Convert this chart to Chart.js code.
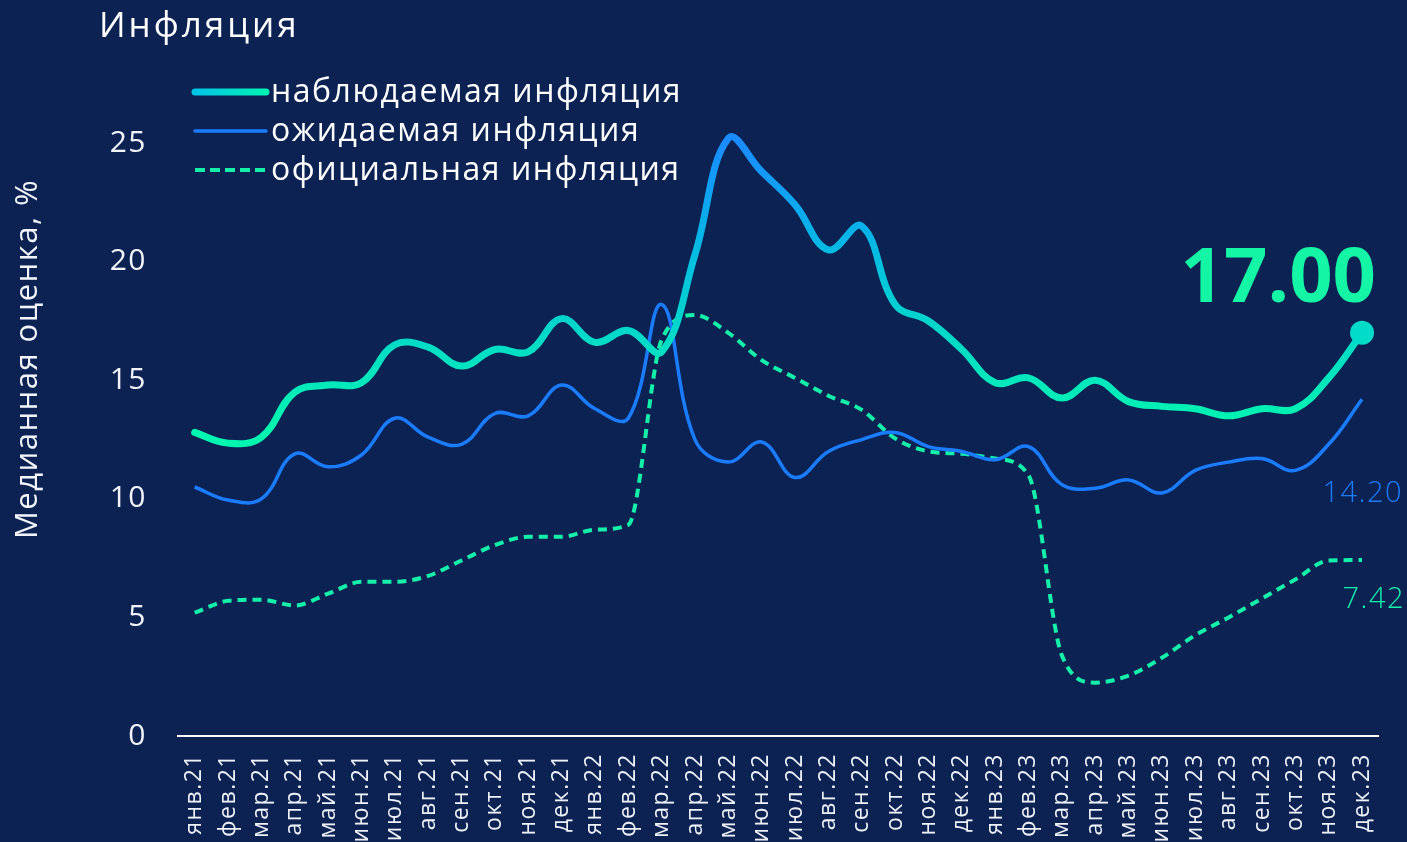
<!DOCTYPE html>
<html lang="ru">
<head>
<meta charset="utf-8">
<title>Инфляция</title>
<script src="https://cdn.jsdelivr.net/npm/chart.js@4.4.1/dist/chart.umd.min.js"></script>
<style>
  html, body { margin: 0; padding: 0; background: #0b2253; overflow: hidden; }
  #wrap { position: relative; width: 1407px; height: 842px; }
  #title { position: absolute; left: 99px; top: 0px; font: 35px 'Open Sans', sans-serif; letter-spacing: 3px; color: #ffffff; }
  canvas { display: block; }
</style>
</head>
<body>
<div id="wrap">
  <div id="title">Инфляция</div>
  <canvas id="chart" width="1407" height="842"></canvas>
</div>
<script>
const months = [
  'янв.21', 'фев.21', 'мар.21', 'апр.21', 'май.21', 'июн.21', 'июл.21', 'авг.21', 'сен.21', 'окт.21', 'ноя.21', 'дек.21',
  'янв.22', 'фев.22', 'мар.22', 'апр.22', 'май.22', 'июн.22', 'июл.22', 'авг.22', 'сен.22', 'окт.22', 'ноя.22', 'дек.22',
  'янв.23', 'фев.23', 'мар.23', 'апр.23', 'май.23', 'июн.23', 'июл.23', 'авг.23', 'сен.23', 'окт.23', 'ноя.23', 'дек.23'
];

// наблюдаемая инфляция
const observed = [
  12.8, 12.35, 12.6, 14.5, 14.8, 14.9, 16.5, 16.4, 15.6, 16.3, 16.2, 17.6,
  16.6, 17.1, 16.2, 20.3, 25.2, 23.8, 22.4, 20.5, 21.5, 18.2, 17.5, 16.3,
  14.9, 15.1, 14.25, 15.0, 14.1, 13.9, 13.8, 13.5, 13.8, 13.8, 15.1, 17.0
];

// ожидаемая инфляция
const expected = [
  10.5, 9.95, 10.0, 11.9, 11.35, 11.85, 13.4, 12.6, 12.3, 13.6, 13.5, 14.8,
  13.8, 13.4, 18.2, 12.5, 11.55, 12.4, 10.9, 12.0, 12.5, 12.8, 12.2, 12.0,
  11.65, 12.2, 10.6, 10.45, 10.8, 10.25, 11.2, 11.55, 11.7, 11.2, 12.3, 14.2
];

// официальная инфляция
const official = [
  5.2, 5.7, 5.75, 5.5, 6.0, 6.5, 6.5, 6.75, 7.4, 8.05, 8.4, 8.4,
  8.7, 8.9, 16.7, 17.75, 17.0, 15.85, 15.1, 14.35, 13.75, 12.55, 12.0, 11.9,
  11.7, 11.0, 3.4, 2.25, 2.55, 3.3, 4.25, 5.0, 5.8, 6.6, 7.4, 7.42
];

const seriesNames = ['наблюдаемая инфляция', 'ожидаемая инфляция', 'официальная инфляция'];
const yTitle = 'Медианная оценка, %';

const GREEN = '#14f0aa';
const BLUE = '#1a7cff';
const FONT = "'Open Sans', sans-serif";

// vertical gradient for the observed line: blue at the peak, green lower down
function observedGradient(chart) {
  const { ctx, chartArea, scales } = chart;
  if (!chartArea) return GREEN;
  const y = scales.y;
  const g = ctx.createLinearGradient(0, y.getPixelForValue(25), 0, y.getPixelForValue(13));
  g.addColorStop(0, '#1a8cff');
  g.addColorStop(0.42, '#00c0e0');
  g.addColorStop(0.7, '#00dcc6');
  g.addColorStop(1, '#00f5b0');
  return g;
}

const lastIdx = months.length - 1;

// wider tracking for all canvas text
const spacing = {
  id: 'spacing',
  beforeDraw(chart) { chart.ctx.letterSpacing = '1.5px'; }
};

const annotate = {
  id: 'annotate',
  afterDatasetsDraw(chart) {
    const { ctx, scales } = chart;
    const x = scales.x, y = scales.y;
    ctx.save();

    // axis title
    ctx.save();
    ctx.translate(28, 359);
    ctx.rotate(-Math.PI / 2);
    ctx.fillStyle = '#f2f4fa';
    ctx.font = '31px ' + FONT;
    ctx.textAlign = 'center';
    ctx.textBaseline = 'middle';
    ctx.fillText(yTitle, 0, 0);
    ctx.restore();

    // legend
    const rows = [92, 131, 170];
    const x0 = 195, x1 = 266;
    rows.forEach((ry, i) => {
      ctx.beginPath();
      ctx.moveTo(x0, ry);
      ctx.lineTo(x1, ry);
      ctx.lineCap = 'round';
      if (i === 0) {
        const g = ctx.createLinearGradient(x0, 0, x1, 0);
        g.addColorStop(0, '#00c4e6');
        g.addColorStop(1, '#00f2b4');
        ctx.strokeStyle = g;
        ctx.lineWidth = 7;
        ctx.setLineDash([]);
      } else if (i === 1) {
        ctx.strokeStyle = BLUE;
        ctx.lineWidth = 3.5;
        ctx.setLineDash([]);
      } else {
        ctx.strokeStyle = GREEN;
        ctx.lineWidth = 4;
        ctx.lineCap = 'butt';
        ctx.setLineDash([10, 5]);
      }
      ctx.stroke();
      ctx.setLineDash([]);
      ctx.fillStyle = '#ffffff';
      ctx.font = '32px ' + FONT;
      ctx.textAlign = 'left';
      ctx.textBaseline = 'middle';
      ctx.fillText(seriesNames[i], 271, ry + 1);
    });

    // end values
    const xe = x.getPixelForValue(lastIdx);
    ctx.textAlign = 'right';
    ctx.textBaseline = 'alphabetic';
    ctx.fillStyle = '#14f5a6';
    ctx.letterSpacing = '0px';
    ctx.font = 'bold 76px ' + FONT;
    ctx.fillText(observed[lastIdx].toFixed(2), xe + 14, y.getPixelForValue(observed[lastIdx]) - 31);

    ctx.letterSpacing = '1.5px';
    ctx.textBaseline = 'middle';
    ctx.font = '300 29px ' + FONT;
    ctx.fillStyle = BLUE;
    ctx.fillText(expected[lastIdx].toFixed(2), xe + 41, y.getPixelForValue(expected[lastIdx]) + 94);
    ctx.fillStyle = GREEN;
    ctx.fillText(official[lastIdx].toFixed(2), xe + 43, y.getPixelForValue(official[lastIdx]) + 40);
    ctx.restore();
  }
};

new Chart(document.getElementById('chart'), {
  type: 'line',
  data: {
    labels: months,
    datasets: [
      {
        label: seriesNames[0],
        data: observed,
        borderColor: (c) => observedGradient(c.chart),
        borderWidth: 7,
        borderCapStyle: 'round',
        borderJoinStyle: 'round',
        tension: 0.4,
        pointRadius: observed.map((_, i) => (i === lastIdx ? 12 : 0)),
        pointBackgroundColor: '#00dcc8',
        pointBorderWidth: 0,
        order: 0
      },
      {
        label: seriesNames[1],
        data: expected,
        borderColor: BLUE,
        borderWidth: 3.5,
        tension: 0.4,
        pointRadius: 0,
        order: 1
      },
      {
        label: seriesNames[2],
        data: official,
        borderColor: GREEN,
        borderWidth: 4,
        borderDash: [9, 6],
        cubicInterpolationMode: 'monotone',
        pointRadius: 0,
        order: 2
      }
    ]
  },
  options: {
    responsive: false,
    animation: false,
    layout: { padding: { top: 72, right: 26, left: 0, bottom: 0 } },
    plugins: {
      legend: { display: false },
      tooltip: { enabled: false }
    },
    scales: {
      x: {
        offset: true,
        grid: { display: false, drawTicks: false },
        border: { display: true, color: '#ffffff', width: 2 },
        ticks: {
          autoSkip: false,
          minRotation: 90,
          maxRotation: 90,
          padding: 17,
          color: '#eef1f8',
          font: { family: FONT, size: 23 }
        },
        afterFit(scale) { scale.height = 106; }
      },
      y: {
        min: 0,
        max: 28,
        grid: { display: false, drawTicks: false },
        border: { display: false },
        ticks: {
          stepSize: 5,
          padding: 31,
          color: '#f2f4fa',
          font: { family: FONT, size: 30 }
        },
        afterBuildTicks(scale) {
          scale.ticks = scale.ticks.filter(t => t.value % 5 === 0);
        },
        afterFit(scale) { scale.width = 178; }
      }
    }
  },
  plugins: [spacing, annotate]
});
</script>
</body>
</html>
